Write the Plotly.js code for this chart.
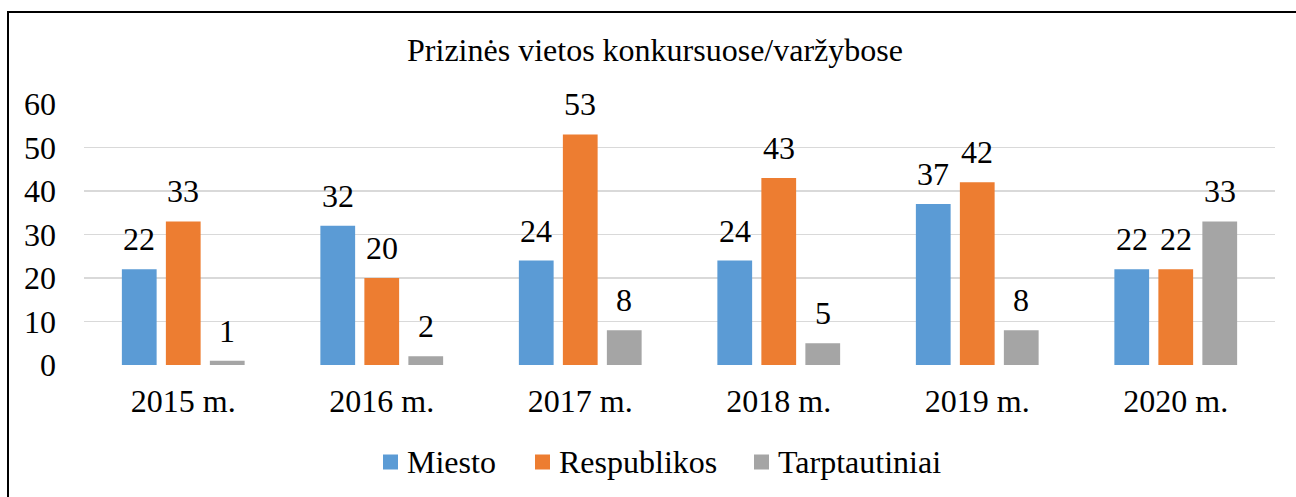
<!DOCTYPE html>
<html>
<head>
<meta charset="utf-8">
<script src="https://cdn.plot.ly/plotly-3.0.1.min.js"></script>
<style>
  html, body { margin: 0; padding: 0; background: #fff; overflow: hidden; }
  #wrap { position: relative; width: 1296px; height: 497px; }
  #chart { width: 1296px; height: 497px; }
  #frame { position: absolute; left: 7px; top: 11px; width: 1400px; height: 600px;
           border-left: 2px solid #000; border-top: 2px solid #000; pointer-events: none; }
</style>
</head>
<body>
<div id="wrap">
  <div id="chart"></div>
  <div id="frame"></div>
</div>
<script>
// ---- data ----
const categories = ['2015 m.', '2016 m.', '2017 m.', '2018 m.', '2019 m.', '2020 m.'];
const seriesNames = ['Miesto', 'Respublikos', 'Tarptautiniai'];
const miesto = [22, 32, 24, 24, 37, 22];
const respublikos = [33, 20, 53, 43, 42, 22];
const tarptautiniai = [1, 2, 8, 5, 8, 33];
const yTicks = [0, 10, 20, 30, 40, 50, 60];
const chartTitle = 'Prizinės vietos konkursuose/varžybose';

// ---- style ----
const colors = ['#5B9BD5', '#ED7D31', '#A5A5A5'];
const FONT = '"Liberation Serif", "Times New Roman", Times, serif';
const FS = 32;
const W = 1296, H = 497;
const margin = {l: 84, r: 21, t: 104, b: 132};
const bargap = 0.335, bargroupgap = 0.21;
const plotW = W - margin.l - margin.r;
const plotH = H - margin.t - margin.b;
const catW = plotW / categories.length;
const slot = catW * (1 - bargap) / seriesNames.length;

const values = [miesto, respublikos, tarptautiniai];

const traces = values.map((v, i) => ({
  type: 'bar',
  name: seriesNames[i],
  x: categories,
  y: v,
  marker: {color: colors[i], line: {width: 0}},
  hoverinfo: 'x+y+name'
}));

const annotations = [];
values.forEach((v, i) => {
  v.forEach((val, j) => {
    annotations.push({
      x: categories[j], y: val, xref: 'x', yref: 'y',
      xshift: (i - 1) * slot, yshift: 10,
      yanchor: 'bottom', xanchor: 'center',
      text: String(val), showarrow: false,
      font: {family: FONT, size: FS, color: '#000'}
    });
  });
});

// custom legend (layout positions in px)
const legendSwatchX = [383, 535, 754];
const legendCY = 462;
const sw = 15;
const px2x = px => (px - margin.l) / plotW;
const py2y = py => (H - margin.b - py) / plotH;
const shapes = [];
seriesNames.forEach((n, i) => {
  shapes.push({
    type: 'rect', xref: 'paper', yref: 'paper',
    x0: px2x(legendSwatchX[i]), x1: px2x(legendSwatchX[i] + sw),
    y0: py2y(legendCY + sw / 2), y1: py2y(legendCY - sw / 2),
    fillcolor: colors[i], line: {width: 0}
  });
  annotations.push({
    xref: 'paper', yref: 'paper',
    x: px2x(legendSwatchX[i] + sw + 7), y: py2y(legendCY),
    xanchor: 'left', yanchor: 'middle', showarrow: false,
    text: n, font: {family: FONT, size: FS, color: '#000'}
  });
});

const layout = {
  width: W, height: H,
  margin: margin,
  paper_bgcolor: '#fff', plot_bgcolor: '#fff',
  font: {family: FONT, color: '#000', size: FS},
  title: {
    text: chartTitle,
    font: {family: FONT, size: FS, color: '#000'},
    xref: 'container', yref: 'container',
    x: 655 / W, y: 1 - 50 / H, xanchor: 'center', yanchor: 'middle'
  },
  barmode: 'group',
  bargap: bargap,
  bargroupgap: bargroupgap,
  showlegend: false,
  xaxis: {
    type: 'category',
    showgrid: false, zeroline: false, showline: false, ticks: '',
    tickfont: {family: FONT, size: FS, color: '#000'},
    ticklabelstandoff: 14
  },
  yaxis: {
    range: [0, 60],
    tickvals: yTicks,
    showgrid: true, gridcolor: '#D9D9D9', gridwidth: 1.3,
    zeroline: false, showline: false, ticks: '',
    tickfont: {family: FONT, size: FS, color: '#000'},
    ticklabelstandoff: 27
  },
  annotations: annotations,
  shapes: shapes
};

Plotly.newPlot('chart', traces, layout, {displayModeBar: false, staticPlot: true});
</script>
</body>
</html>
